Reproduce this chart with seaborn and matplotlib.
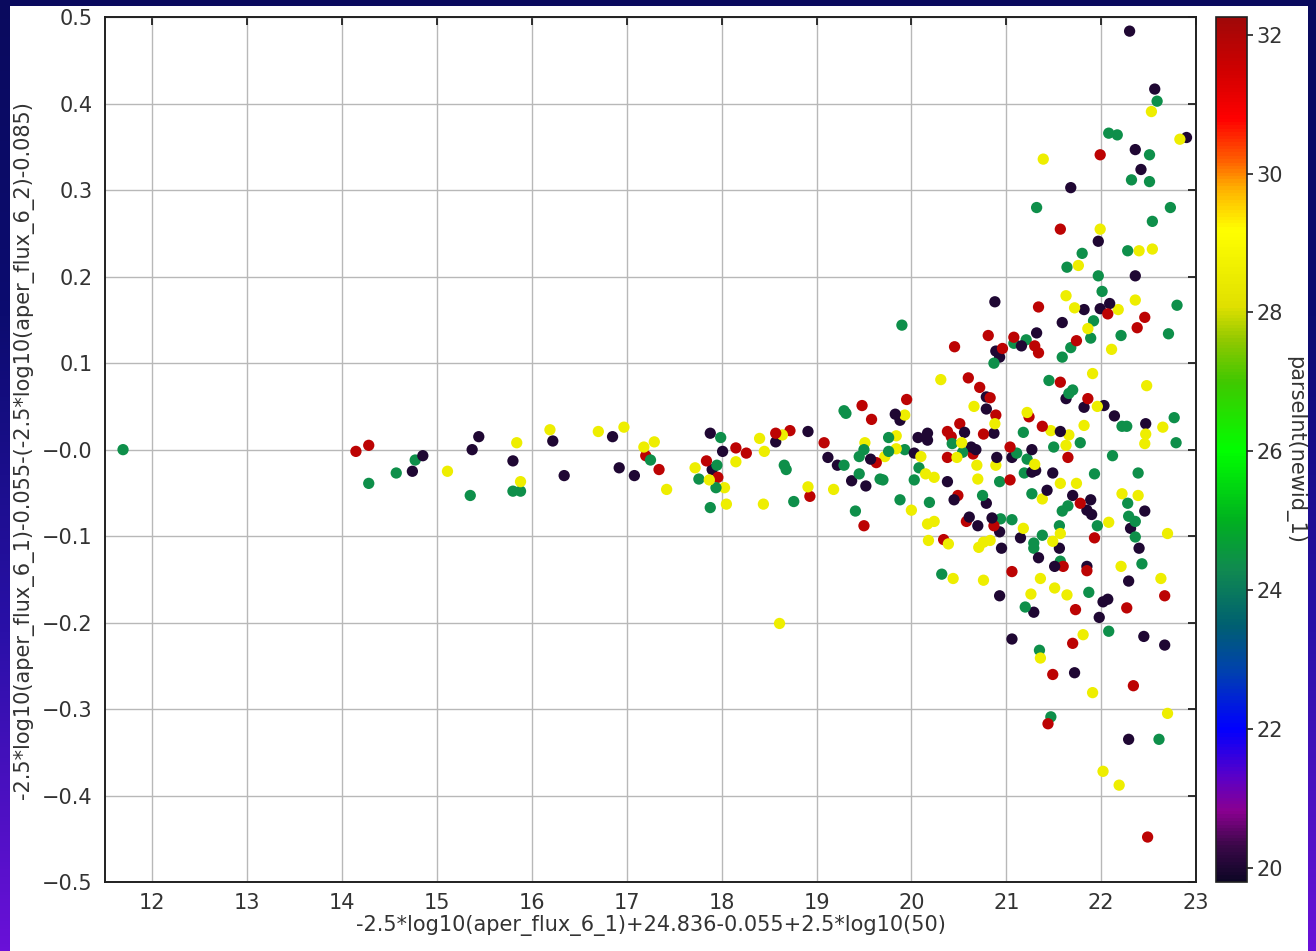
import numpy as np
import pandas as pd
import matplotlib
matplotlib.use("Agg")
import matplotlib.pyplot as plt
import seaborn as sns
from matplotlib.colors import LinearSegmentedColormap, Normalize
from matplotlib.patches import Rectangle

# ---------------- data ----------------
# newid ~20 (dark navy points)
k_x = [14.74, 14.85, 15.37, 15.44, 15.80, 16.22, 16.34, 16.85, 16.92, 17.08,
       17.88, 18.01, 17.90, 18.57, 18.91, 19.12, 19.22, 19.37, 19.52, 19.57,
       22.30, 22.565, 22.90, 22.36, 22.42, 21.68, 21.97, 22.36, 20.88, 21.82,
       21.99, 22.09, 21.59, 21.32, 21.16, 20.89, 20.93, 20.79, 20.79, 21.63,
       21.82, 22.03,
       19.83, 19.88, 20.07, 20.17, 20.17, 20.03, 20.56, 20.63, 20.68, 20.38,
       20.45, 20.79, 20.87, 20.90, 21.06, 21.57, 21.27, 21.27, 21.31, 21.49,
       21.43, 21.70, 21.89, 21.85, 21.90, 22.14, 22.47, 22.46, 20.61,
       20.70, 20.85, 20.93, 20.95, 21.15, 21.56, 21.34, 21.51, 21.85, 22.31,
       22.40, 22.29, 20.93, 22.02, 22.07, 21.29, 21.98,
       21.06, 22.45, 22.67, 21.72, 22.29]
k_y = [-0.025, -0.007, 0.000, 0.015, -0.013, 0.010, -0.030, 0.015, -0.021, -0.030,
       0.019, -0.002, -0.023, 0.009, 0.021, -0.009, -0.018, -0.036, -0.042, -0.011,
       0.484, 0.417, 0.361, 0.347, 0.324, 0.303, 0.241, 0.201, 0.171, 0.162,
       0.163, 0.169, 0.147, 0.135, 0.120, 0.114, 0.107, 0.061, 0.047, 0.059,
       0.049, 0.051,
       0.041, 0.034, 0.014, 0.019, 0.011, -0.004, 0.020, 0.003, 0.000, -0.037,
       -0.058, -0.062, 0.019, -0.009, -0.009, 0.021, 0.000, -0.026, -0.024, -0.027,
       -0.047, -0.053, -0.058, -0.070, -0.075, 0.039, 0.030, -0.071, -0.078,
       -0.088, -0.079, -0.095, -0.114, -0.102, -0.114, -0.125, -0.135, -0.135, -0.091,
       -0.114, -0.152, -0.169, -0.176, -0.173, -0.188, -0.194,
       -0.219, -0.216, -0.226, -0.258, -0.335]
k_id = 20.0

# newid ~24.4 (green points)
g_x = [11.69, 14.28, 14.57, 14.77, 15.35, 15.80, 15.88, 17.25, 17.76,
       17.99, 17.95, 17.94, 17.88, 18.66, 18.68, 18.76, 19.29, 19.45, 19.67,
       19.41, 19.29, 19.31, 19.50, 19.45, 19.88,
       22.59, 22.08, 22.17, 22.51, 22.32, 22.51, 21.32, 22.73, 22.54, 22.28,
       21.80, 21.64, 21.97, 22.01, 22.80, 21.92, 21.89, 22.21, 22.71, 21.21,
       21.08, 21.68, 21.59, 20.87, 19.90, 21.45, 21.70, 21.66,
       19.76, 19.76, 19.93, 19.70, 20.08, 20.03, 20.19, 20.43, 20.54, 20.75,
       20.93, 21.11, 21.18, 21.22, 21.19, 21.50, 21.78, 21.93, 21.27, 21.65,
       21.59, 22.22, 22.27, 22.77, 22.79, 22.12, 22.39, 22.28, 22.29,
       20.94, 21.06, 21.29, 21.29, 21.38, 21.56, 21.57, 21.96, 22.36, 22.36,
       22.43, 20.32, 21.87, 21.20,
       21.35, 22.08, 21.47, 22.61]
g_y = [0.000, -0.039, -0.027, -0.012, -0.053, -0.048, -0.048, -0.012, -0.034,
       0.014, -0.018, -0.044, -0.067, -0.018, -0.023, -0.060, -0.018, -0.028, -0.034,
       -0.071, 0.045, 0.042, 0.000, -0.008, -0.058,
       0.403, 0.366, 0.364, 0.341, 0.312, 0.310, 0.280, 0.280, 0.264, 0.230,
       0.227, 0.211, 0.201, 0.183, 0.167, 0.149, 0.129, 0.132, 0.134, 0.127,
       0.123, 0.118, 0.107, 0.100, 0.144, 0.080, 0.069, 0.065,
       0.014, -0.002, 0.000, -0.035, -0.021, -0.035, -0.061, 0.007, -0.003, -0.053,
       -0.037, -0.004, 0.020, -0.011, -0.027, 0.003, 0.008, -0.028, -0.051, -0.065,
       -0.071, 0.027, 0.027, 0.037, 0.008, -0.007, -0.027, -0.062, -0.077,
       -0.080, -0.081, -0.108, -0.114, -0.099, -0.088, -0.129, -0.088, -0.083, -0.101,
       -0.132, -0.144, -0.165, -0.182,
       -0.232, -0.210, -0.309, -0.335]
g_id = 24.4

# newid ~28.5 (yellow points)
y_x = [15.11, 15.84, 15.88, 16.19, 16.70, 16.97, 17.18, 17.29, 17.42, 17.72,
       17.87, 18.03, 18.05, 18.15, 18.40, 18.45, 18.64, 18.44, 18.91, 19.18,
       19.51, 19.72, 18.61,
       22.53, 22.83, 21.39, 21.99, 22.40, 22.54, 21.76, 21.63, 22.36, 21.72,
       22.18, 21.86, 22.11, 20.31, 20.66, 21.91, 21.96, 22.48,
       19.93, 19.84, 19.84, 20.10, 20.15, 20.24, 20.00, 20.53, 20.48, 20.69,
       20.70, 20.88, 20.89, 21.22, 21.47, 21.66, 21.30, 21.63, 21.82, 21.38,
       21.57, 21.74, 22.65, 22.46, 22.47, 22.22, 22.39,
       20.17, 20.24, 20.18, 20.39, 20.71, 20.76, 20.83, 21.18, 21.49, 21.57,
       22.08, 22.21, 22.70, 22.63, 20.44, 20.76, 21.36, 21.51, 21.26, 21.64,
       21.36, 21.81, 21.91, 22.70, 22.02, 22.19]
y_y = [-0.025, 0.008, -0.037, 0.023, 0.021, 0.026, 0.003, 0.009, -0.046, -0.021,
       -0.035, -0.044, -0.063, -0.014, 0.013, -0.002, 0.017, -0.063, -0.043, -0.046,
       0.008, -0.008, -0.201,
       0.391, 0.359, 0.336, 0.255, 0.230, 0.232, 0.213, 0.178, 0.173, 0.164,
       0.162, 0.140, 0.116, 0.081, 0.050, 0.088, 0.050, 0.074,
       0.040, 0.016, 0.001, -0.008, -0.028, -0.032, -0.070, 0.008, -0.009, -0.018,
       -0.034, 0.030, -0.018, 0.043, 0.022, 0.017, -0.017, 0.005, 0.028, -0.057,
       -0.039, -0.039, 0.026, 0.007, 0.018, -0.051, -0.053,
       -0.086, -0.083, -0.105, -0.109, -0.113, -0.107, -0.105, -0.091, -0.106, -0.097,
       -0.084, -0.135, -0.097, -0.149, -0.149, -0.151, -0.149, -0.160, -0.167, -0.168,
       -0.241, -0.214, -0.281, -0.305, -0.372, -0.388]
y_id = 28.6

# newid ~31.9 (red points)
r_x = [14.145, 14.28, 17.20, 17.34,
       17.84, 17.96, 18.15, 18.26, 18.57, 18.72, 18.93, 19.08, 19.50, 19.48,
       19.58, 19.63,
       21.99, 21.57, 21.34, 22.07, 22.46, 22.38, 20.81, 20.455, 21.08, 21.30,
       21.34, 21.74, 20.96, 20.60, 20.72, 20.83, 19.95, 21.57, 21.86,
       20.89, 21.24, 20.38, 20.51, 20.42, 20.38, 20.65, 20.49, 20.76, 21.04,
       21.04, 21.38, 21.65, 21.78,
       20.34, 20.58, 20.87, 21.60, 21.85, 21.93, 22.67, 21.06, 21.73, 22.27,
       21.70, 21.49, 22.34, 21.44, 22.49]
r_y = [-0.002, 0.005, -0.007, -0.023,
       -0.013, -0.032, 0.002, -0.004, 0.019, 0.022, -0.054, 0.008, -0.088, 0.051,
       0.035, -0.015,
       0.341, 0.255, 0.165, 0.157, 0.153, 0.141, 0.132, 0.119, 0.130, 0.120,
       0.112, 0.126, 0.117, 0.083, 0.072, 0.060, 0.058, 0.078, 0.059,
       0.040, 0.038, 0.021, 0.030, 0.015, -0.009, -0.005, -0.053, 0.018, -0.035,
       0.003, 0.027, -0.009, -0.062,
       -0.104, -0.083, -0.088, -0.135, -0.140, -0.102, -0.169, -0.141, -0.185, -0.183,
       -0.224, -0.260, -0.273, -0.317, -0.448]
r_id = 31.8

x_ticks = [12, 13, 14, 15, 16, 17, 18, 19, 20, 21, 22, 23]
y_ticks = [-0.5, -0.4, -0.3, -0.2, -0.1, 0.0, 0.1, 0.2, 0.3, 0.4, 0.5]
y_tick_labels = ["\u22120.5", "\u22120.4", "\u22120.3", "\u22120.2", "\u22120.1",
                 "\u22120.0", "0.1", "0.2", "0.3", "0.4", "0.5"]
cb_ticks = [20, 22, 24, 26, 28, 30, 32]

x_label = "-2.5*log10(aper_flux_6_1)+24.836-0.055+2.5*log10(50)"
y_label = "-2.5*log10(aper_flux_6_1)-0.055-(-2.5*log10(aper_flux_6_2)-0.085)"
c_label = "parseInt(newid_1)"

# ---------------- table ----------------
df = pd.concat([
    pd.DataFrame({"x": k_x, "y": k_y, "newid": k_id}),
    pd.DataFrame({"x": g_x, "y": g_y, "newid": g_id}),
    pd.DataFrame({"x": y_x, "y": y_y, "newid": y_id}),
    pd.DataFrame({"x": r_x, "y": r_y, "newid": r_id}),
], ignore_index=True)
# mix draw order so that no colour always sits on top
order = np.argsort((np.asarray(df["x"]) * 1000.0) % 7.0, kind="stable")
df = df.iloc[order].reset_index(drop=True)

# ---------------- colormap ----------------
vmin, vmax = 19.8, 32.25
anchors = [(19.8, "#0e0626"), (20.3, "#3a0848"), (20.8, "#8a0090"), (21.3, "#5a00c8"),
           (22.0, "#0000ff"), (22.8, "#0040b0"), (23.5, "#006070"), (24.3, "#108a50"),
           (25.0, "#00b020"), (26.0, "#00ff00"), (27.0, "#40c800"), (27.6, "#90c800"),
           (28.1, "#e0e000"), (29.2, "#ffff00"), (29.8, "#ffb000"), (30.2, "#ff6000"),
           (30.8, "#ff0000"), (31.5, "#d00000"), (32.25, "#a00808")]
cmap = LinearSegmentedColormap.from_list(
    "topcat_like", [((v - vmin) / (vmax - vmin), c) for v, c in anchors])
norm = Normalize(vmin=vmin, vmax=vmax)

# ---------------- figure ----------------
sns.set_style("white")
plt.rcParams["font.family"] = ["DejaVu Sans"]
W, H = 1316, 951
fig = plt.figure(figsize=(W / 100, H / 100), dpi=100)

# background: blue/purple frame and white panel
bg = fig.add_axes([0, 0, 1, 1], zorder=-10)
grad = np.linspace(0, 1, 256)[:, None]
bg_cmap = LinearSegmentedColormap.from_list("bg", ["#0a0a5e", "#0c0c70", "#2a10a8", "#6a10d8"])
bg.imshow(grad, aspect="auto", cmap=bg_cmap, extent=[0, 1, 0, 1], origin="upper")
bg.add_patch(Rectangle((10 / W, 0), (1308 - 10) / W, 1 - 6 / H, facecolor="#ffffff",
                       edgecolor="none", transform=bg.transAxes))
bg.set_axis_off()

ax = fig.add_axes([105 / W, (H - 882) / H, (1196 - 105) / W, (882 - 17.3) / H])
ax.set_facecolor("white")
sns.scatterplot(data=df, x="x", y="y", hue="newid", palette=cmap, hue_norm=norm,
                s=66, linewidth=0, edgecolor="none", legend=False, ax=ax, zorder=3)

ax.set_xlim(11.5, 23.0)
ax.set_ylim(-0.5, 0.5)
ax.set_xticks(x_ticks)
ax.set_yticks(y_ticks)
ax.set_yticklabels(y_tick_labels)
ax.grid(True, color="#b8b8b8", linewidth=1.0, zorder=0)
ax.set_axisbelow(True)
for sp in ax.spines.values():
    sp.set_color("#202020")
    sp.set_linewidth(1.4)
ax.tick_params(direction="in", length=6, width=1.3, color="#202020",
               top=True, right=True, labelsize=15, labelcolor="#333333")
ax.tick_params(axis="x", pad=8)
ax.tick_params(axis="y", pad=9)
ax.set_xlabel(x_label, fontsize=15, color="#333333", labelpad=1)
ax.set_ylabel(y_label, fontsize=15, color="#333333", labelpad=6)

# colourbar
cax = fig.add_axes([1216 / W, (H - 882) / H, 31 / W, (882 - 17.3) / H])
sm = plt.cm.ScalarMappable(cmap=cmap, norm=norm)
cb = fig.colorbar(sm, cax=cax)
cb.set_ticks(cb_ticks)
cb.outline.set_edgecolor("#202020")
cb.outline.set_linewidth(1.2)
cax.tick_params(direction="out", length=4, width=1.2, color="#202020",
                labelsize=15, labelcolor="#333333", pad=3)
cb.set_label(c_label, fontsize=15, color="#333333", rotation=270, labelpad=16)

fig.savefig("out.png", dpi=100)
